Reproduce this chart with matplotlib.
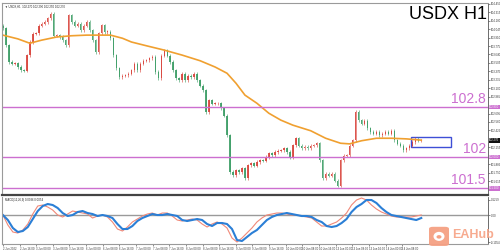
import numpy as np
import matplotlib
matplotlib.use("Agg")
import matplotlib.pyplot as plt
import matplotlib.patches as mpatches
from matplotlib.transforms import blended_transform_factory

# H1 close prices, one per candle (open = previous close)
first_open = 104.10
closes = [104.06, 103.79, 103.52, 103.49, 103.50, 103.44, 103.39, 103.38, 103.63, 103.84,
          103.97, 103.98, 104.10, 104.13, 104.16, 104.22, 104.29, 103.94, 103.95, 103.92,
          103.87, 103.79, 104.27, 104.16, 104.10, 104.13, 104.03, 104.10, 104.16, 104.03,
          103.87, 103.68, 103.98, 104.11, 104.00, 104.00, 103.90, 103.63, 103.42, 103.28,
          103.30, 103.31, 103.33, 103.39, 103.49, 103.39, 103.49, 103.54, 103.55, 103.58,
          103.60, 103.36, 103.26, 103.62, 103.71, 103.62, 103.52, 103.39, 103.26, 103.23,
          103.33, 103.23, 103.30, 103.28, 103.33, 103.23, 103.14, 103.07, 102.72, 102.91,
          102.85, 102.86, 102.86, 102.78, 102.66, 102.35, 101.76, 101.71, 101.79, 101.76,
          101.82, 101.66, 101.87, 101.90, 101.86, 101.92, 101.95, 101.94, 102.00, 102.06,
          102.03, 102.08, 102.10, 102.11, 102.14, 102.08, 102.00, 102.19, 102.30, 102.18,
          102.14, 102.16, 102.14, 102.18, 102.19, 102.22, 101.95, 101.66, 101.73, 101.70,
          101.73, 101.62, 101.54, 101.95, 102.02, 102.03, 102.18, 102.27, 102.72, 102.59,
          102.53, 102.58, 102.46, 102.40, 102.37, 102.40, 102.35, 102.37, 102.40, 102.37,
          102.42, 102.27, 102.21, 102.18, 102.11, 102.14, 102.18, 102.24, 102.29, 102.26,
          102.27]

# moving average, read at selected candles
ma_idx = [0, 5, 9, 13, 18, 23, 28, 33, 36, 40, 43, 48, 54, 60, 66, 71, 75, 78, 81, 85,
          89, 93, 97, 103, 108, 113, 116, 120, 125, 130, 135, 140]
ma_vals = [103.95, 103.89, 103.82, 103.87, 103.92, 103.94, 103.95, 103.95, 103.95, 103.90,
           103.84, 103.78, 103.71, 103.63, 103.54, 103.44, 103.34, 103.18, 102.99, 102.86,
           102.70, 102.59, 102.51, 102.42, 102.30, 102.22, 102.21, 102.26, 102.30, 102.30,
           102.29, 102.27]

# MACD sub-window, one reading every 5 px of chart
macd_main = [0.00, -0.05, -0.13, -0.17, -0.16, -0.12, -0.04, 0.04, 0.09, 0.11,
             0.10, 0.07, 0.02, -0.01, 0.00, 0.03, 0.04, 0.02, 0.01, -0.01,
             0.00, -0.01, -0.03, -0.09, -0.14, -0.14, -0.11, -0.06, -0.03, -0.01,
             0.01, 0.00, 0.00, 0.01, 0.00, -0.01, -0.05, -0.06, -0.05, -0.04,
             -0.05, -0.09, -0.11, -0.08, -0.08, -0.09, -0.14, -0.25, -0.26, -0.22,
             -0.18, -0.15, -0.10, -0.05, -0.02, 0.00, 0.01, 0.02, 0.01, 0.00,
             -0.01, -0.01, -0.02, -0.05, -0.07, -0.11, -0.12, -0.11, -0.08, -0.04,
             0.03, 0.08, 0.11, 0.15, 0.15, 0.12, 0.07, 0.03, 0.00, -0.01,
             -0.02, -0.03, -0.04, -0.05, -0.03]
macd_signal = [0.00, -0.10, -0.17, -0.18, -0.15, -0.09, 0.01, 0.09, 0.10, 0.08,
               0.05, 0.00, -0.02, 0.01, 0.04, 0.03, 0.02, 0.01, -0.03, -0.01,
               0.00, -0.02, -0.07, -0.14, -0.16, -0.12, -0.07, -0.04, -0.01, 0.01,
               0.02, 0.00, 0.02, 0.02, -0.01, -0.05, -0.06, -0.05, -0.04, -0.05,
               -0.09, -0.12, -0.09, -0.07, -0.09, -0.13, -0.23, -0.27, -0.23, -0.18,
               -0.13, -0.07, -0.03, 0.00, 0.01, 0.02, 0.02, 0.01, 0.00, 0.00,
               -0.01, -0.02, -0.03, -0.07, -0.11, -0.11, -0.09, -0.07, -0.03, 0.02,
               0.10, 0.15, 0.17, 0.15, 0.10, 0.06, 0.03, 0.01, -0.01, -0.02,
               -0.02, -0.02, -0.02, -0.01, 0.00]

levels = [102.8, 102.0, 101.5]
level_labels = ["102.8", "102", "101.5"]
current_price = 102.27

date_labels = ["2 Jun 2022", "2 Jun 16:00", "3 Jun 00:00", "3 Jun 08:00", "3 Jun 16:00",
               "6 Jun 00:00", "6 Jun 08:00", "6 Jun 16:00", "7 Jun 00:00", "7 Jun 08:00",
               "7 Jun 16:00", "8 Jun 00:00", "8 Jun 08:00", "8 Jun 16:00", "9 Jun 00:00",
               "9 Jun 08:00", "9 Jun 16:00", "10 Jun 00:00", "10 Jun 08:00", "10 Jun 16:00",
               "13 Jun 00:00", "13 Jun 08:00", "13 Jun 16:00", "14 Jun 00:00", "14 Jun 08:00"]

UP = "#d9443c"
DOWN = "#3d9e66"
LEVEL = "#cc6fd0"
TINY = 2.0

plt.rcParams['font.family'] = ['Liberation Sans', 'DejaVu Sans']

fig = plt.figure(figsize=(5.0, 2.52), dpi=100)
ax = fig.add_axes([0.004, 0.2262, 0.972, 0.7619])
axm = fig.add_axes([0.004, 0.0317, 0.972, 0.1865])

# --- candles ---
c = np.array(closes)
o = np.concatenate([[first_open], c[:-1]])
x = np.arange(len(c))
up = c >= o
cols = np.where(up, UP, DOWN)
hi = np.maximum(o, c) + 0.025
lo = np.minimum(o, c) - 0.025
ax.vlines(x, lo, hi, colors=cols, linewidth=0.5, alpha=0.85)
height = np.where(np.abs(c - o) < 0.01, 0.01, c - o)
ax.bar(x, height, bottom=o, width=0.5, color=cols, linewidth=0, alpha=0.9)

ax.plot(ma_idx, ma_vals, color="#f0a030", linewidth=1.2)

for lv, lab in zip(levels, level_labels):
    ax.axhline(lv, color=LEVEL, linewidth=1.0)
    ax.text(161.6, lv + 0.015, lab, color=LEVEL, fontsize=10, ha="right", va="bottom")

ax.add_patch(mpatches.Rectangle((136.7, 102.16), 13.3, 0.16, fill=False,
                                edgecolor="#3f4fd6", linewidth=1.0))

ax.set_xlim(-0.3, 162.33)
ax.set_ylim(101.392, 104.464)
ax.text(0.998, 0.985, "USDX H1", transform=ax.transAxes, fontsize=13,
        ha="right", va="top", color="black")
ax.text(0.006, 0.992, "\u25BC USDX,H1  102.270 102.290 102.250 102.270",
        transform=ax.transAxes, fontsize=TINY, ha="left", va="top", color="#222222")

# price scale on the right (ticks hidden behind the highlighted prices are skipped)
marked = levels + [current_price]
ticks = [t for t in np.arange(104.45, 101.40, -0.135)
         if min(abs(t - m) for m in marked) > 0.06]
ax.yaxis.tick_right()
ax.set_yticks(ticks)
ax.set_yticklabels([f"{t:.3f}" for t in ticks])
ax.tick_params(axis="y", labelsize=TINY, length=1.2, width=0.4, pad=0.6, colors="#333333")
ax.set_xticks([])
tr = blended_transform_factory(ax.transAxes, ax.transData)
for lv in levels:
    ax.text(1.002, lv, f"{lv:.3f}", transform=tr, fontsize=TINY, color="white",
            va="center", ha="left", clip_on=False, zorder=5,
            bbox=dict(boxstyle="square,pad=0.15", fc=LEVEL, ec="none"))
ax.text(1.002, current_price, f"{current_price:.3f}", transform=tr, fontsize=TINY,
        color="white", va="center", ha="left", clip_on=False, zorder=5,
        bbox=dict(boxstyle="square,pad=0.15", fc="#111111", ec="none"))

for s in ["left", "top"]:
    ax.spines[s].set_color("#9a9a9a")
    ax.spines[s].set_linewidth(0.8)
ax.spines["right"].set_color("#555555")
ax.spines["right"].set_linewidth(0.6)
ax.spines["bottom"].set_color("#444444")
ax.spines["bottom"].set_linewidth(1.6)

# --- MACD ---
mx = np.arange(len(macd_main)) * 5 / 3.0
axm.axhline(0, color="#9a9a9a", linewidth=1.0)
axm.plot(mx, macd_signal, color="#f08878", linewidth=0.8)
axm.plot(mx, macd_main, color="#2b7fd6", linewidth=1.5)
axm.set_xlim(-0.3, 162.33)
axm.set_ylim(-0.29, 0.18)
axm.text(0.006, 0.97, "MACD(12,26,9) 0.0036 0.0054", transform=axm.transAxes,
         fontsize=TINY, ha="left", va="top", color="#222222")
axm.yaxis.tick_right()
axm.set_yticks([0.155, 0.0, -0.27])
axm.set_yticklabels(["0.1259", "0.00", "-0.1954"])
axm.tick_params(axis="y", labelsize=TINY, length=1.2, width=0.4, pad=0.6, colors="#333333")
tick_pos = np.arange(len(date_labels)) * 16.7 / 3.0
axm.set_xticks(tick_pos)
axm.set_xticklabels(date_labels, ha="left")
axm.tick_params(axis="x", labelsize=TINY, length=1.2, width=0.4, pad=0.6, colors="#333333")
for s in ["left", "bottom"]:
    axm.spines[s].set_color("#9a9a9a")
    axm.spines[s].set_linewidth(0.8)
axm.spines["top"].set_visible(False)
axm.spines["right"].set_color("#555555")
axm.spines["right"].set_linewidth(0.6)

# --- EAHub watermark ---
fig.patches.append(mpatches.FancyBboxPatch((0.860, 0.026), 0.036, 0.072,
                                           boxstyle="round,pad=0.002,rounding_size=0.008",
                                           transform=fig.transFigure, fc="#f5a083",
                                           ec="none", alpha=0.95))
fig.patches.append(mpatches.Ellipse((0.878, 0.062), 0.022, 0.036,
                                    transform=fig.transFigure, fc="white", ec="none"))
fig.patches.append(mpatches.Ellipse((0.878, 0.060), 0.010, 0.014,
                                    transform=fig.transFigure, fc="#f5a083", ec="none"))
fig.text(0.904, 0.066, "EAHub", fontsize=9, color="#f7ab90", ha="left", va="center",
         fontweight="bold")

fig.savefig("out.png", dpi=100, facecolor="white")
